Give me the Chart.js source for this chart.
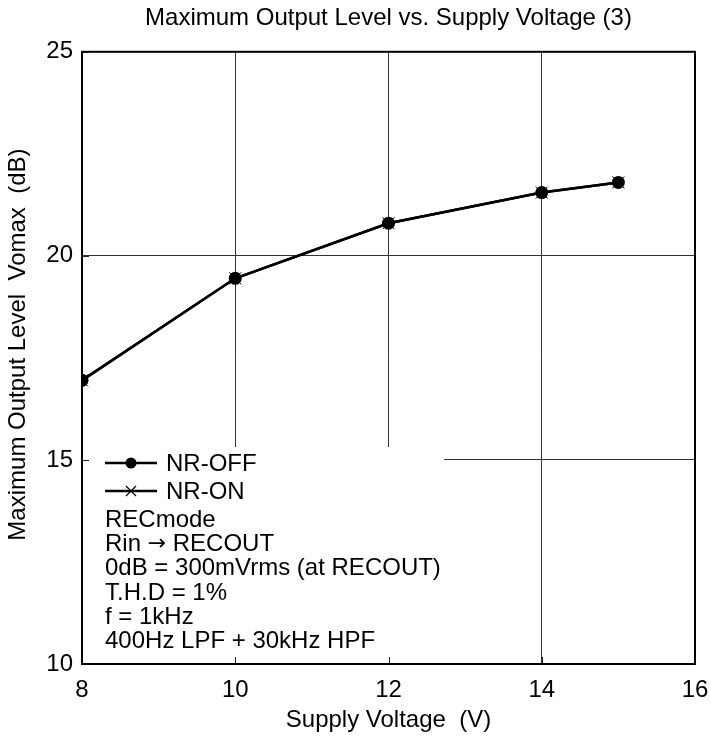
<!DOCTYPE html>
<html>
<head>
<meta charset="utf-8">
<script src="https://cdn.jsdelivr.net/npm/chart.js@4/dist/chart.umd.min.js"></script>
<style>
    html, body { margin: 0; padding: 0; background: #fff; }
    canvas { display: block; }
</style>
</head>
<body>
<canvas id="chart" width="711" height="739"></canvas>
<script>
// chart data
const supplyVoltage = [8, 10, 12, 14, 15];
const nrOffLevel = [16.95, 19.45, 20.8, 21.55, 21.8];
const nrOnLevel = [16.95, 19.45, 20.8, 21.55, 21.8];
const xTicks = [8, 10, 12, 14, 16];
const yTicks = [10, 15, 20, 25];
const seriesNames = ['NR-OFF', 'NR-ON'];
const conditionNotes = [
    'RECmode',
    'Rin \u2192 RECOUT',
    '0dB = 300mVrms (at RECOUT)',
    'T.H.D = 1%',
    'f = 1kHz',
    '400Hz LPF + 30kHz HPF'
];

const FONT = '"Liberation Sans", Arial, sans-serif';
const ARROW_FONT = '"DejaVu Sans", sans-serif';
const INK = '#000';

// legend / note box inside the plot (white patch over the grid)
const legendBox = {
    width: 362,
    height: 217,
    stub: 7
};

const toPoints = (xs, ys) => xs.map((x, i) => ({ x, y: ys[i] }));

// draw a note line, the arrow taken from a font with a longer glyph
function drawNote(ctx, text, x, y) {
    const parts = text.split('\u2192');
    parts.forEach((part, i) => {
        ctx.font = '24px ' + FONT;
        ctx.fillText(part, x, y);
        x += ctx.measureText(part).width;
        if (i < parts.length - 1) {
            ctx.font = '22px ' + ARROW_FONT;
            ctx.fillText('\u2192', x, y - 1);
            x += ctx.measureText('\u2192').width;
        }
    });
}

const plotDecor = {
    id: 'plotDecor',
    beforeDatasetsDraw(chart) {
        const { ctx, chartArea: a, scales } = chart;
        ctx.save();

        // white box covering the grid behind the legend
        ctx.fillStyle = '#fff';
        ctx.fillRect(a.left, a.bottom - legendBox.height, legendBox.width, legendBox.height);

        // inner tick stubs
        ctx.strokeStyle = '#222';
        ctx.lineWidth = 1;
        ctx.beginPath();
        xTicks.forEach(v => {
            const px = Math.round(scales.x.getPixelForValue(v)) + 0.5;
            ctx.moveTo(px, a.bottom);
            ctx.lineTo(px, a.bottom - legendBox.stub);
        });
        yTicks.forEach(v => {
            const py = Math.round(scales.y.getPixelForValue(v)) + 0.5;
            ctx.moveTo(a.left, py);
            ctx.lineTo(a.left + legendBox.stub, py);
        });
        ctx.stroke();

        // frame
        ctx.strokeStyle = INK;
        ctx.lineWidth = 2;
        ctx.strokeRect(a.left, a.top, a.right - a.left, a.bottom - a.top);

        // legend entries
        const lx0 = a.left + 23, lx1 = a.left + 75, mx = a.left + 49, tx = a.left + 84;
        const rows = [a.bottom - 201, a.bottom - 173];
        ctx.font = '24px ' + FONT;
        ctx.fillStyle = INK;
        ctx.textBaseline = 'middle';
        rows.forEach((y, i) => {
            ctx.strokeStyle = INK;
            ctx.lineWidth = 2.5;
            ctx.beginPath();
            ctx.moveTo(lx0, y);
            ctx.lineTo(lx1, y);
            ctx.stroke();
            if (i === 0) {
                ctx.beginPath();
                ctx.arc(mx, y, 5.5, 0, Math.PI * 2);
                ctx.fill();
            } else {
                ctx.lineWidth = 1.2;
                ctx.beginPath();
                ctx.moveTo(mx - 5, y - 5); ctx.lineTo(mx + 5, y + 5);
                ctx.moveTo(mx - 5, y + 5); ctx.lineTo(mx + 5, y - 5);
                ctx.stroke();
            }
            ctx.fillText(seriesNames[i], tx, y + 1);
        });

        // measurement conditions
        ctx.textBaseline = 'alphabetic';
        conditionNotes.forEach((line, i) => {
            drawNote(ctx, line, a.left + 23, a.bottom - 137 + i * 24.2);
        });

        ctx.restore();
    }
};

new Chart(document.getElementById('chart'), {
    type: 'line',
    data: {
        datasets: [
            {
                label: seriesNames[0],
                data: toPoints(supplyVoltage, nrOffLevel),
                borderColor: INK,
                backgroundColor: INK,
                borderWidth: 2.5,
                pointStyle: 'circle',
                pointRadius: 6.5,
                pointBorderWidth: 0,
                tension: 0
            },
            {
                label: seriesNames[1],
                data: toPoints(supplyVoltage, nrOnLevel),
                borderColor: INK,
                backgroundColor: INK,
                borderWidth: 2.5,
                pointStyle: 'crossRot',
                pointRadius: 8.5,
                pointBorderWidth: 1,
                tension: 0
            }
        ]
    },
    options: {
        responsive: false,
        devicePixelRatio: 1,
        animation: false,
        layout: { padding: { left: 0, right: 16, top: 0, bottom: 0 } },
        plugins: {
            legend: { display: false },
            tooltip: { enabled: false },
            title: {
                display: true,
                fullSize: false,
                text: 'Maximum Output Level vs. Supply Voltage (3)',
                color: INK,
                font: { family: FONT, size: 24, weight: 'normal', lineHeight: 1.2 },
                padding: { top: 4, bottom: 19 }
            }
        },
        scales: {
            x: {
                type: 'linear',
                min: 8,
                max: 16,
                afterBuildTicks: s => { s.ticks = xTicks.map(v => ({ value: v })); },
                afterFit: s => { s.height = 75; s.paddingLeft = 0; s.paddingRight = 0; },
                grid: { color: '#333', lineWidth: 1, drawTicks: false },
                border: { display: false },
                ticks: {
                    color: INK,
                    padding: 12,
                    font: { family: FONT, size: 24 }
                },
                title: {
                    display: true,
                    text: 'Supply Voltage  (V)',
                    color: INK,
                    font: { family: FONT, size: 24, lineHeight: 1.2 },
                    padding: { top: 0, bottom: 4 }
                }
            },
            y: {
                min: 10,
                max: 25,
                afterBuildTicks: s => { s.ticks = yTicks.map(v => ({ value: v })); },
                afterFit: s => { s.width = 82; s.paddingTop = 0; s.paddingBottom = 0; },
                grid: { color: '#333', lineWidth: 1, drawTicks: false },
                border: { display: false },
                ticks: {
                    color: INK,
                    padding: 9,
                    font: { family: FONT, size: 24 }
                },
                title: {
                    display: true,
                    text: '\u00a0\u00a0\u00a0\u00a0Maximum Output Level  Vomax  (dB)',
                    color: INK,
                    font: { family: FONT, size: 24, lineHeight: 1.2 },
                    padding: { top: 4, bottom: 0 }
                }
            }
        }
    },
    plugins: [plotDecor]
});
</script>
</body>
</html>
